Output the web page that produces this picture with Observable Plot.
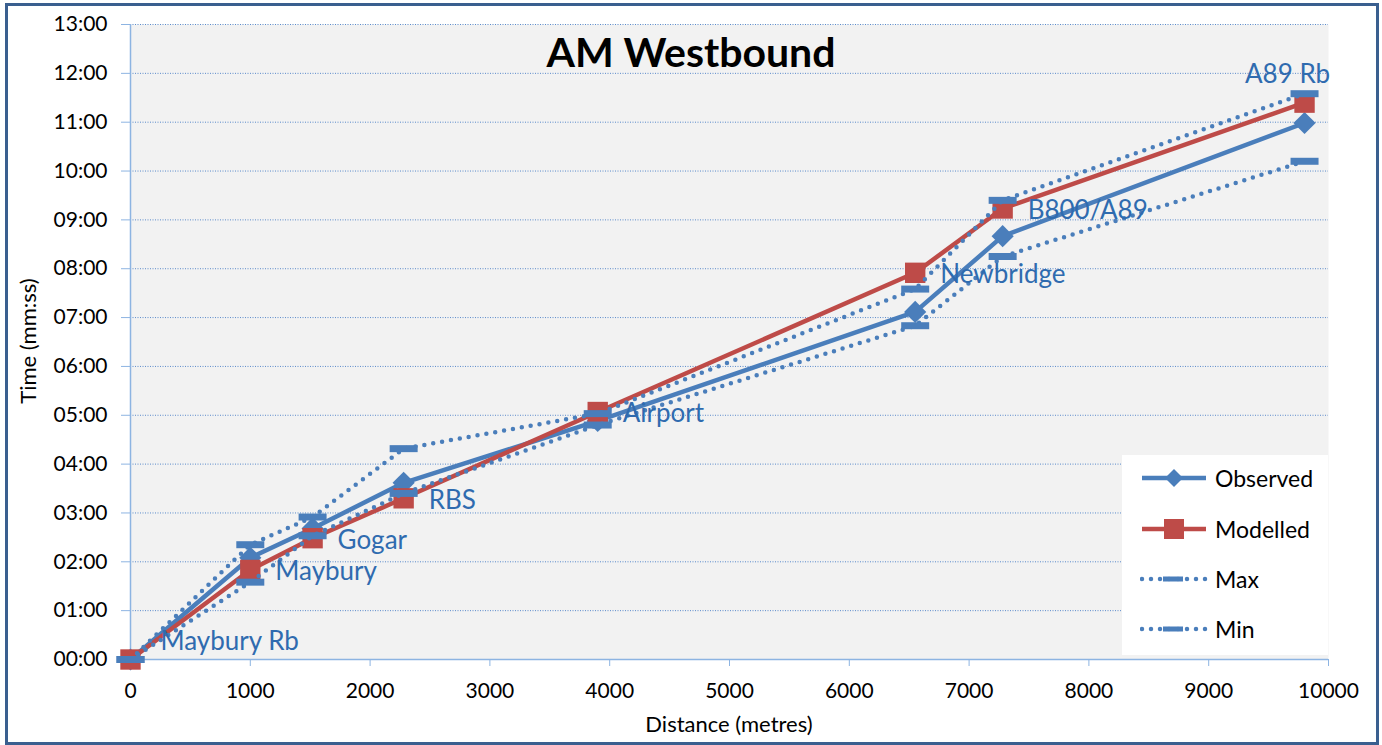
<!DOCTYPE html>
<html>
<head>
<meta charset="utf-8">
<script src="https://cdn.jsdelivr.net/npm/d3@7"></script>
<script src="https://cdn.jsdelivr.net/npm/@observablehq/plot@0.6"></script>
<style>
  html, body { margin: 0; padding: 0; background: #fff; }
  #wrap { position: relative; width: 1382px; height: 745px; background: #fff; font-family: Lato, "Open Sans", sans-serif; overflow: hidden; }
  #border { position: absolute; left: 5px; top: 3px; width: 1368px; height: 736px; border: 3px solid #3A5F8F; box-sizing: content-box; pointer-events: none; }
  #title { position: absolute; left: 0; width: 1382px; top: 27px; text-align: center; font-weight: 700; font-size: 41px; line-height: 50px; color: #000; }
  #xtitle { position: absolute; left: 130px; width: 1198px; top: 710px; text-align: center; font-size: 22px; line-height: 28px; color: #000; }
  #ytitle { position: absolute; left: 28px; top: 341px; transform: translate(-50%, -50%) rotate(-90deg); font-size: 22px; line-height: 28px; white-space: nowrap; color: #000; }
  #legend { position: absolute; left: 1122px; top: 455px; width: 206px; height: 200px; background: #fff; }
  .li { position: absolute; left: 18px; height: 30px; display: flex; align-items: center; font-size: 23px; color: #000; }
  .li svg { margin-right: 7px; }
</style>
</head>
<body>
<div id="wrap">
  <div id="chart"></div>
  <div id="title">AM Westbound</div>
  <div id="xtitle">Distance (metres)</div>
  <div id="ytitle">Time (mm:ss)</div>
  <div id="legend"></div>
  <div id="border"></div>
</div>
<script>
// ---- data ----
const locations = ["Maybury Rb", "Maybury", "Gogar", "RBS", "Airport", "Newbridge", "B800/A89", "A89 Rb"];
const distance  = [0, 1000, 1520, 2280, 3900, 6550, 7280, 9800];
const observed  = ["00:00", "02:05", "02:41", "03:37", "04:53", "07:07", "08:40", "10:59"];
const modelled  = ["00:00", "01:50", "02:29", "03:18", "05:04", "07:55", "09:14", "11:24"];
const maxTime   = ["00:00", "02:21", "02:55", "04:19", "05:02", "07:35", "09:24", "11:35"];
const minTime   = ["00:00", "01:35", "02:32", "03:24", "04:48", "06:50", "08:15", "10:12"];
const xTicks = [0, 1000, 2000, 3000, 4000, 5000, 6000, 7000, 8000, 9000, 10000];
const yTicks = [0, 1, 2, 3, 4, 5, 6, 7, 8, 9, 10, 11, 12, 13]; // minutes
const seriesNames = ["Observed", "Modelled", "Max", "Min"];

const toMin = s => { const [m, ss] = s.split(":").map(Number); return m + ss / 60; };
const rows = locations.map((loc, i) => ({
  loc, dist: distance[i],
  obs: toMin(observed[i]), mod: toMin(modelled[i]),
  max: toMin(maxTime[i]), min: toMin(minTime[i])
}));
const n = rows.length;

const BLUE = "#4A7EBB", RED = "#BE4B48", LABEL = "#2F6BAF", AXIS = "#8DB4E2";
const dashSymbol = { draw(ctx) { ctx.rect(-14, -3.5, 28, 7); } };

const chart = Plot.plot({
  width: 1382, height: 745,
  marginLeft: 130, marginRight: 54, marginTop: 24, marginBottom: 86,
  style: { fontFamily: "Lato, 'Open Sans', sans-serif", background: "transparent", overflow: "visible" },
  x: { domain: [0, 10000] },
  y: { domain: [0, 13] },
  marks: [
    Plot.frame({ fill: "#F2F2F2", stroke: "none" }),
    Plot.gridY(yTicks, { stroke: "#5B8BCB", strokeOpacity: 1, strokeWidth: 1, strokeDasharray: "1,1.5" }),
    Plot.axisY(yTicks, { tickSize: 9, tickPadding: 14, stroke: AXIS, fill: "#000", fontSize: 21, label: null,
      tickFormat: d => String(d).padStart(2, "0") + ":00" }),
    Plot.axisX(xTicks, { tickSize: 7, tickPadding: 17, stroke: AXIS, fill: "#000", fontSize: 21, label: null,
      tickFormat: d => String(d) }),
    Plot.ruleX([0], { stroke: AXIS, strokeWidth: 1.5 }),
    Plot.ruleY([0], { stroke: AXIS, strokeWidth: 1.5 }),
    // Observed
    Plot.line(rows, { x: "dist", y: "obs", stroke: BLUE, strokeWidth: 4.5 }),
    Plot.dot(rows, { x: "dist", y: "obs", symbol: "diamond2", r: 10, fill: BLUE, stroke: "none" }),
    // Modelled
    Plot.line(rows, { x: "dist", y: "mod", stroke: RED, strokeWidth: 4.5 }),
    Plot.dot(rows, { x: "dist", y: "mod", symbol: "square", r: 11.5, fill: RED, stroke: "none" }),
    // Max
    Plot.line(rows, { x: "dist", y: "max", stroke: BLUE, strokeWidth: 4.5, strokeDasharray: "0,9", strokeLinecap: "round" }),
    Plot.dot(rows, { x: "dist", y: "max", symbol: dashSymbol, r: 5, fill: BLUE, stroke: "none" }),
    // Min
    Plot.line(rows, { x: "dist", y: "min", stroke: BLUE, strokeWidth: 4.5, strokeDasharray: "0,9", strokeLinecap: "round" }),
    Plot.dot(rows, { x: "dist", y: "min", symbol: dashSymbol, r: 5, fill: BLUE, stroke: "none" }),
    // Location labels
    Plot.text(rows, { filter: (d, i) => i > 0 && i < n - 1, x: "dist", y: "mod", text: "loc",
      textAnchor: "start", dx: 25, dy: 2, fill: LABEL, fontSize: 26 }),
    Plot.text(rows, { filter: (d, i) => i === 0, x: "dist", y: "mod", text: "loc",
      textAnchor: "start", dx: 30, dy: -18, fill: LABEL, fontSize: 26 }),
    Plot.text(rows, { filter: (d, i) => i === n - 1, x: "dist", y: "mod", text: "loc",
      textAnchor: "middle", dx: -17, dy: -28, fill: LABEL, fontSize: 26 })
  ]
});
document.getElementById("chart").appendChild(chart);

// ---- legend ----
const legend = document.getElementById("legend");
const legendTops = [8, 59, 109, 159];
seriesNames.forEach((name, i) => {
  const item = document.createElement("div");
  item.className = "li";
  item.style.top = legendTops[i] + "px";
  let sw;
  if (name === "Observed") {
    sw = `<line x1="2" y1="15" x2="66" y2="15" stroke="${BLUE}" stroke-width="4.5"/>
          <path d="M34,6 L43,15 L34,24 L25,15 Z" fill="${BLUE}"/>`;
  } else if (name === "Modelled") {
    sw = `<line x1="2" y1="15" x2="66" y2="15" stroke="${RED}" stroke-width="4.5"/>
          <rect x="24" y="5" width="20" height="20" fill="${RED}"/>`;
  } else {
    sw = `<line x1="2" y1="15" x2="66" y2="15" stroke="${BLUE}" stroke-width="4.5" stroke-dasharray="0,9" stroke-linecap="round"/>
          <rect x="23" y="12.5" width="20" height="5" fill="${BLUE}"/>`;
  }
  item.innerHTML = `<svg width="68" height="30">${sw}</svg><span>${name}</span>`;
  legend.appendChild(item);
});
</script>
</body>
</html>
